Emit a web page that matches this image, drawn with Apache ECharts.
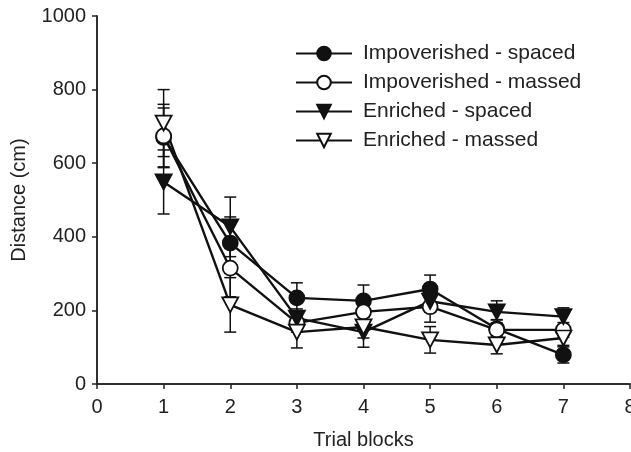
<!DOCTYPE html>
<html>
<head>
<meta charset="utf-8">
<script src="https://cdn.jsdelivr.net/npm/echarts@6/dist/echarts.min.js"></script>
<style>
  html, body { margin: 0; padding: 0; background: #fff; }
  #main { width: 631px; height: 452px; }
</style>
</head>
<body>
<div id="main"></div>
<script>
// trial blocks on the x axis
var blocks = [1, 2, 3, 4, 5, 6, 7];

// mean distance (cm) and error per block
var impSpaced = [670, 383, 234, 226, 258, 150, 79];
var impSpacedErr = [80, 71, 41, 43, 38, 25, 22];
var impMassed = [674, 315, 166, 196, 210, 147, 147];
var impMassedErr = [86, 78, 25, 30, 42, 27, 20];
var enrSpaced = [549, 427, 179, 141, 225, 196, 183];
var enrSpacedErr = [87, 81, 25, 41, 30, 30, 24];
var enrMassed = [709, 215, 141, 155, 120, 106, 125];
var enrMassedErr = [91, 74, 43, 30, 36, 24, 20];

var seriesNames = ['Impoverished - spaced', 'Impoverished - massed', 'Enriched - spaced', 'Enriched - massed'];
var xTicks = [0, 1, 2, 3, 4, 5, 6, 7, 8];
var yTicks = [0, 200, 400, 600, 800, 1000];

var downTri = 'path://M0,0 L10,0 L5,9 Z';
var font = 'Liberation Sans, Arial, sans-serif';

function pairs(vals) {
  var out = [];
  for (var i = 0; i < blocks.length; i++) out.push([blocks[i], vals[i]]);
  return out;
}
function errData(vals, errs) {
  var out = [];
  for (var i = 0; i < blocks.length; i++) out.push([blocks[i], vals[i] - errs[i], vals[i] + errs[i]]);
  return out;
}

function errSeries(vals, errs) {
  return {
    type: 'custom',
    data: errData(vals, errs),
    z: 1,
    silent: true,
    renderItem: function (params, api) {
      var lo = api.coord([api.value(0), api.value(1)]);
      var hi = api.coord([api.value(0), api.value(2)]);
      var w = 6;
      var st = { stroke: '#111', lineWidth: 1.5 };
      return {
        type: 'group',
        children: [
          { type: 'line', shape: { x1: lo[0], y1: lo[1], x2: hi[0], y2: hi[1] }, style: st },
          { type: 'line', shape: { x1: lo[0] - w, y1: lo[1], x2: lo[0] + w, y2: lo[1] }, style: st },
          { type: 'line', shape: { x1: hi[0] - w, y1: hi[1], x2: hi[0] + w, y2: hi[1] }, style: st }
        ]
      };
    }
  };
}

function lineSeries(name, vals, symbol, size, fill) {
  return {
    name: name,
    type: 'line',
    data: pairs(vals),
    symbol: symbol,
    symbolSize: size,
    showAllSymbol: true,
    z: 3,
    lineStyle: { color: '#111', width: 2.4 },
    itemStyle: { color: fill, borderColor: '#111', borderWidth: 1.8 }
  };
}

var myChart = echarts.init(document.getElementById('main'));

var option = {
  animation: false,
  backgroundColor: '#fff',
  textStyle: { fontFamily: font },
  grid: { left: 97, right: 1, top: 16, bottom: 68, containLabel: false, outerBoundsMode: 'none' },
  legend: {
    orient: 'vertical',
    left: 290,
    top: 38,
    itemWidth: 56,
    itemHeight: 17,
    itemGap: 8,
    data: seriesNames,
    textStyle: { fontSize: 21, color: '#222', fontFamily: font, padding: [0, 0, 0, 6] }
  },
  xAxis: [{
    type: 'value',
    min: xTicks[0],
    max: xTicks[xTicks.length - 1],
    interval: 1,
    name: 'Trial blocks',
    nameLocation: 'middle',
    nameGap: 46,
    nameTextStyle: { fontSize: 20, color: '#222', verticalAlign: 'top' },
    axisLine: { lineStyle: { color: '#222', width: 1.5 } },
    axisTick: { inside: false, length: 5, lineStyle: { color: '#222', width: 1.5 } },
    axisLabel: { fontSize: 20, color: '#222', margin: 13 },
    splitLine: { show: false }
  }, {
    type: 'value',
    position: 'top',
    min: xTicks[0],
    max: xTicks[xTicks.length - 1],
    axisLine: { show: true, lineStyle: { color: '#222', width: 1.5 } },
    axisTick: { show: false },
    axisLabel: { show: false },
    splitLine: { show: false }
  }],
  yAxis: [{
    type: 'value',
    min: yTicks[0],
    max: yTicks[yTicks.length - 1],
    interval: 200,
    name: 'Distance (cm)',
    nameLocation: 'middle',
    nameGap: 68,
    nameTextStyle: { fontSize: 20, color: '#222' },
    axisLine: { show: true, lineStyle: { color: '#222', width: 1.5 } },
    axisTick: { show: true, inside: false, length: 5, lineStyle: { color: '#222', width: 1.5 } },
    axisLabel: { fontSize: 20, color: '#222', margin: 11, formatter: function (v) { return String(v); } },
    splitLine: { show: false }
  }, {
    type: 'value',
    position: 'right',
    min: yTicks[0],
    max: yTicks[yTicks.length - 1],
    axisLine: { show: true, lineStyle: { color: '#222', width: 1.5 } },
    axisTick: { show: false },
    axisLabel: { show: false },
    splitLine: { show: false }
  }],
  series: [
    errSeries(impSpaced, impSpacedErr),
    errSeries(impMassed, impMassedErr),
    errSeries(enrSpaced, enrSpacedErr),
    errSeries(enrMassed, enrMassedErr),
    lineSeries(seriesNames[0], impSpaced, 'circle', 15, '#111'),
    lineSeries(seriesNames[1], impMassed, 'circle', 15, '#fff'),
    lineSeries(seriesNames[2], enrSpaced, downTri, [16, 15], '#111'),
    lineSeries(seriesNames[3], enrMassed, downTri, [16, 15], '#fff')
  ]
};

myChart.setOption(option);
</script>
</body>
</html>
